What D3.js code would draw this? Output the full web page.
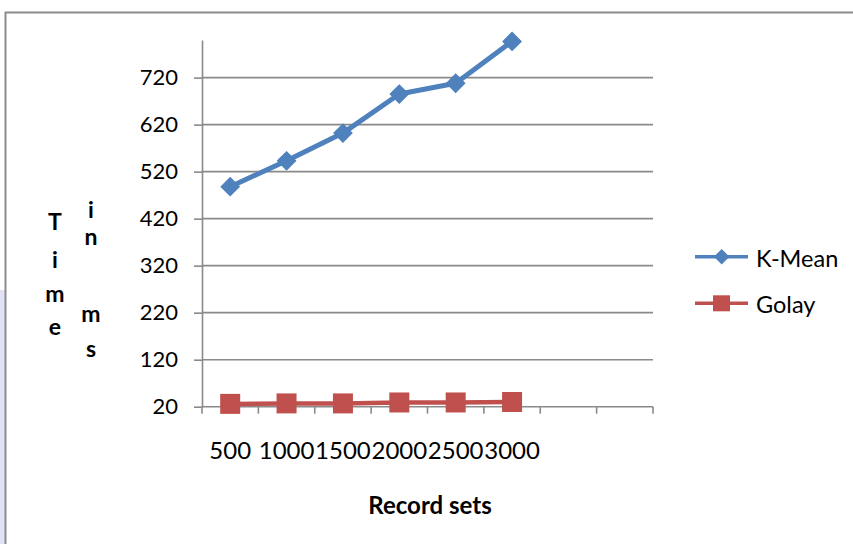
<!DOCTYPE html>
<html><head><meta charset="utf-8">
<script src="https://cdn.jsdelivr.net/npm/d3@7/dist/d3.min.js"></script>
<style>
html,body{margin:0;padding:0;background:#fff;}
svg{display:block;font-family:Lato,"Open Sans",sans-serif;}
</style></head>
<body><svg id="c" width="853" height="544"></svg>
<script>
// ---- data ----
const categories = ["500","1000","1500","2000","2500","3000","",""];
const kMean = [488, 543, 602, 685, 708, 797];
const golay = [26, 27, 27, 29, 29, 30];
const yTicks = [20, 120, 220, 320, 420, 520, 620, 720];
const seriesNames = ["K-Mean", "Golay"];
const xTitle = "Record sets";
const yTitleWords = ["Time", "in ms"];

(function(){
// ---- layout ----
const svg = d3.select("#c");
const pLeft = 202, pRight = 653, pTop = 40, pBottom = 406.7;
const blue = "#4F81BD", red = "#C0504D", grid = "#8a8a8a";

// background / frame
svg.append("rect").attr("x",0).attr("y",290).attr("width",5).attr("height",254).attr("fill","#e2e2f6");
svg.append("rect").attr("x",5.5).attr("y",12.5).attr("width",860).attr("height",540)
  .attr("fill","none").attr("stroke","#8c8c8c").attr("stroke-width",2);

const x = d3.scaleBand().domain(d3.range(categories.length)).range([pLeft, pRight]).padding(0);
const y = d3.scaleLinear().domain([20, 800]).range([pBottom, pTop]);

// gridlines
svg.append("g").selectAll("line").data(yTicks.slice(1)).join("line")
  .attr("x1", pLeft).attr("x2", pRight)
  .attr("y1", d => y(d)).attr("y2", d => y(d))
  .attr("stroke", grid).attr("stroke-width", 1.6);

// y axis
const yAxis = d3.axisLeft(y).tickValues(yTicks).tickSize(8).tickPadding(16).tickSizeOuter(0);
const gy = svg.append("g").attr("transform", `translate(${pLeft},0)`).call(yAxis);
gy.select(".domain").attr("stroke", grid).attr("stroke-width", 1.6);
gy.selectAll(".tick line").attr("stroke", grid).attr("stroke-width", 1.6);
gy.selectAll(".tick text").attr("font-size", 22).attr("fill", "#000").attr("font-family","Lato");

// x axis
const gx = svg.append("g").attr("transform", `translate(0,${pBottom})`);
gx.append("line").attr("x1", pLeft).attr("x2", pRight).attr("y1",0).attr("y2",0)
  .attr("stroke", grid).attr("stroke-width", 1.6);
gx.selectAll("line.t").data(d3.range(categories.length + 1)).join("line").attr("class","t")
  .attr("x1", i => pLeft + i * x.bandwidth()).attr("x2", i => pLeft + i * x.bandwidth())
  .attr("y1", 0).attr("y2", 7).attr("stroke", grid).attr("stroke-width", 1.6);
gx.selectAll("text").data(categories).join("text")
  .attr("x", (d,i) => x(i) + x.bandwidth()/2).attr("y", 52.5)
  .attr("text-anchor","middle").attr("font-size", 24).attr("fill","#000")
  .text(d => d);

// series
const line = d3.line().x((d,i) => x(i) + x.bandwidth()/2).y(d => y(d));

svg.append("path").datum(kMean).attr("d", line).attr("fill","none")
  .attr("stroke", blue).attr("stroke-width", 5).attr("stroke-linejoin","round");
svg.append("g").selectAll("rect").data(kMean).join("rect")
  .attr("width", 13).attr("height", 13)
  .attr("transform", (d,i) => `translate(${x(i)+x.bandwidth()/2},${y(d)}) rotate(45) translate(-6.5,-6.5)`)
  .attr("fill", blue).attr("stroke", blue).attr("stroke-width", 1);

svg.append("path").datum(golay).attr("d", line).attr("fill","none")
  .attr("stroke", red).attr("stroke-width", 4.5);
svg.append("g").selectAll("rect").data(golay).join("rect")
  .attr("x", (d,i) => x(i)+x.bandwidth()/2 - 10).attr("y", d => y(d) - 10)
  .attr("width", 20).attr("height", 20).attr("fill", red);

// legend
const lg = svg.append("g");
const legendY = [256.7, 303.3];
lg.append("line").attr("x1",695).attr("x2",748).attr("y1",legendY[0]).attr("y2",legendY[0])
  .attr("stroke",blue).attr("stroke-width",3.5);
lg.append("rect").attr("width",11).attr("height",11)
  .attr("transform",`translate(721.7,${legendY[0]}) rotate(45) translate(-5.5,-5.5)`).attr("fill",blue);
lg.append("line").attr("x1",695).attr("x2",748).attr("y1",legendY[1]).attr("y2",legendY[1])
  .attr("stroke",red).attr("stroke-width",3.5);
lg.append("rect").attr("x",713).attr("y",legendY[1]-8).attr("width",17).attr("height",16).attr("fill",red);
lg.selectAll("text").data(seriesNames).join("text")
  .attr("x", 756).attr("y", (d,i) => legendY[i] + 10)
  .attr("font-size", 23.5).attr("fill","#000").text(d => d);

// axis titles
svg.append("text").attr("x", 430).attr("y", 514)
  .attr("text-anchor","middle").attr("font-weight","bold").attr("font-size", 24)
  .attr("fill","#000").text(xTitle);

const col1Y = [230, 268, 301.7, 335];
const col2Y = [218.3, 245, 321.7, 356.7];
const word1 = yTitleWords[0].split("");
const word2 = yTitleWords[1].replace(" ", "").split("");
const yt = svg.append("g").attr("font-weight","bold").attr("font-size",23).attr("text-anchor","middle").attr("fill","#000");
yt.selectAll("text.a").data(word1).join("text").attr("class","a")
  .attr("x",55).attr("y",(d,i)=>col1Y[i]).text(d=>d);
yt.selectAll("text.b").data(word2).join("text").attr("class","b")
  .attr("x",91).attr("y",(d,i)=>col2Y[i]).text(d=>d);
})();
</script></body></html>
